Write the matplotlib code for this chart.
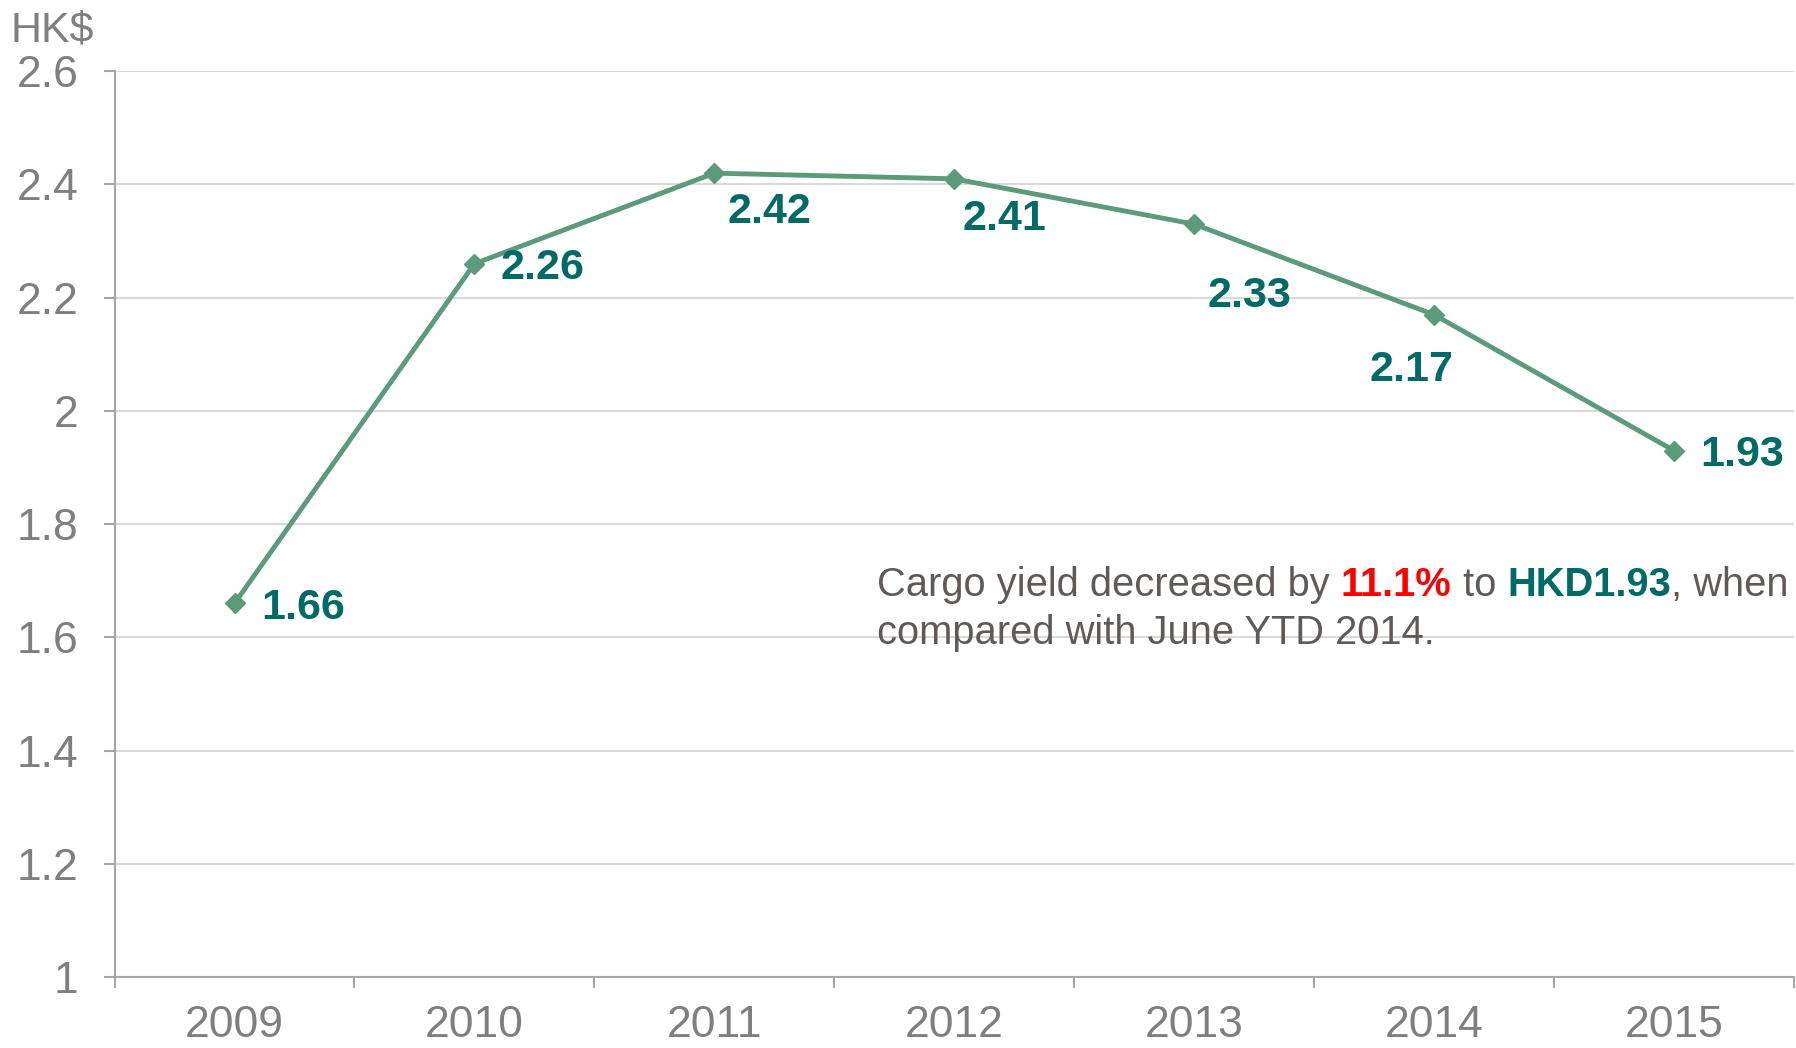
import matplotlib.pyplot as plt

plt.rcParams['font.family'] = ['Liberation Sans', 'DejaVu Sans']

years = ['2009', '2010', '2011', '2012', '2013', '2014', '2015']
yield_hkd = [1.66, 2.26, 2.42, 2.41, 2.33, 2.17, 1.93]

# label offsets in points (dx, dy, ha)
label_offsets = [(19, -3, 'left'), (19, -3, 'left'), (40, -28, 'center'), (36, -29, 'center'),
                 (40, -52, 'center'), (-16, -40, 'center'), (19, -3, 'left')]

line_color = '#5b9a7a'
label_color = '#006a66'
axis_gray = '#7f7f7f'

fig = plt.figure(figsize=(17.96, 10.48), dpi=100)
ax = fig.add_axes([0.0638, 0.0677, 0.935, 0.8643])

x = list(range(len(years)))
ax.plot(x, yield_hkd, color=line_color, lw=3.5, marker='D', markersize=10, zorder=3)

for xi, v, (dx, dy, ha) in zip(x, yield_hkd, label_offsets):
    ax.annotate(f'{v:.2f}', (xi, v), xytext=(dx, dy), textcoords='offset points',
                ha=ha, va='center', fontsize=31, fontweight='bold', color=label_color)

ax.set_xlim(-0.5, len(years) - 0.5)
ax.set_ylim(1, 2.6)
yt = [1, 1.2, 1.4, 1.6, 1.8, 2, 2.2, 2.4, 2.6]
ax.set_yticks(yt)
ax.set_yticklabels(['1', '1.2', '1.4', '1.6', '1.8', '2', '2.2', '2.4', '2.6'])
ax.set_xticks([i - 0.5 for i in range(len(years) + 1)])
ax.set_xticklabels([])
ax.set_xticks(x, minor=True)
ax.set_xticklabels(years, minor=True)
ax.tick_params(axis='x', which='major', length=8, width=1.5, color='#a6a6a6')
ax.tick_params(axis='x', which='minor', length=0, pad=20, labelsize=32, labelcolor=axis_gray)
ax.tick_params(axis='y', length=8, width=1.5, color='#a6a6a6', pad=18, labelsize=32,
               labelcolor=axis_gray)

ax.grid(axis='y', color='#d9d9d9', lw=1.5)
ax.set_axisbelow(True)
for s in ['top', 'right']:
    ax.spines[s].set_visible(False)
for s in ['left', 'bottom']:
    ax.spines[s].set_color('#a6a6a6')
    ax.spines[s].set_linewidth(1.5)
ax.spines['bottom'].set_zorder(4)

fig.text(0.006, 0.971, 'HK$', fontsize=31, color=axis_gray, va='center', ha='left')

# multi-colour annotation
renderer = fig.canvas.get_renderer()
parts = [('Cargo yield decreased by ', '#5f5a58', 'normal'),
         ('11.1%', '#ff0000', 'bold'),
         (' to ', '#5f5a58', 'normal'),
         ('HKD1.93', label_color, 'bold'),
         (', when', '#5f5a58', 'normal')]
px, py = 877, 1048 - 596
for s, c, w in parts:
    t = fig.text(px / 1796, py / 1048, s, fontsize=28.7, color=c, fontweight=w,
                 va='baseline', ha='left')
    px += t.get_window_extent(renderer).width
fig.text(877 / 1796, (1048 - 644) / 1048, 'compared with June YTD 2014.', fontsize=28.7,
         color='#5f5a58', va='baseline', ha='left')

plt.savefig('out.png')
